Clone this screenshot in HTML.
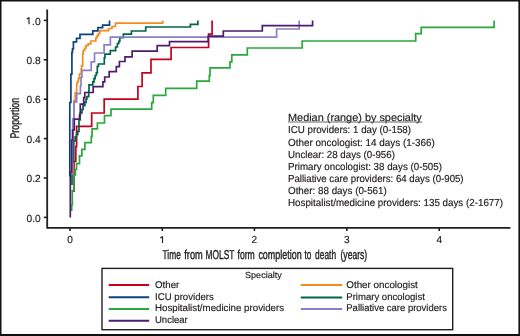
<!DOCTYPE html>
<html><head><meta charset="utf-8"><style>
html,body{margin:0;padding:0;background:#fff;}
body{width:520px;height:336px;overflow:hidden;}
svg{display:block;will-change:transform;}
text{font-family:"Liberation Sans",sans-serif;fill:#231f20;text-rendering:geometricPrecision;stroke:#231f20;stroke-width:0.18px;}
</style></head><body>
<svg width="520" height="336" viewBox="0 0 520 336">
<path d="M0,0 H520 V336 H0 Z M1.5,1.6 V334 H518.4 V1.6 Z" fill="#111" fill-rule="evenodd"/>
<line x1="43.8" y1="20.4" x2="47" y2="20.4" stroke="#231f20" stroke-width="1.6"/>
<text x="40.7" y="24.5" font-size="10.3" text-anchor="end">.0</text>
<path d="M 29,17.3 V 24.2 M 26.9,19.0 L 29.3,17.4" fill="none" stroke="#231f20" stroke-width="1.15"/>
<line x1="43.8" y1="59.8" x2="47" y2="59.8" stroke="#231f20" stroke-width="1.6"/>
<text x="40.7" y="63.9" font-size="10.3" text-anchor="end" textLength="14.2" lengthAdjust="spacingAndGlyphs">0.8</text>
<line x1="43.8" y1="99.2" x2="47" y2="99.2" stroke="#231f20" stroke-width="1.6"/>
<text x="40.7" y="103.3" font-size="10.3" text-anchor="end" textLength="14.2" lengthAdjust="spacingAndGlyphs">0.6</text>
<line x1="43.8" y1="138.6" x2="47" y2="138.6" stroke="#231f20" stroke-width="1.6"/>
<text x="40.7" y="142.7" font-size="10.3" text-anchor="end" textLength="14.2" lengthAdjust="spacingAndGlyphs">0.4</text>
<line x1="43.8" y1="178.0" x2="47" y2="178.0" stroke="#231f20" stroke-width="1.6"/>
<text x="40.7" y="182.1" font-size="10.3" text-anchor="end" textLength="14.2" lengthAdjust="spacingAndGlyphs">0.2</text>
<line x1="43.8" y1="217.4" x2="47" y2="217.4" stroke="#231f20" stroke-width="1.6"/>
<text x="40.7" y="221.5" font-size="10.3" text-anchor="end" textLength="14.2" lengthAdjust="spacingAndGlyphs">0.0</text>
<line x1="70" y1="227" x2="70" y2="231" stroke="#231f20" stroke-width="1.6"/>
<text x="70" y="243" font-size="10.1" text-anchor="middle">0</text>
<line x1="162.3" y1="227" x2="162.3" y2="231" stroke="#231f20" stroke-width="1.6"/>
<path d="M 162.5,236.3 V 243 M 160.3,238.0 L 162.7,236.4" fill="none" stroke="#231f20" stroke-width="1.15"/>
<line x1="254.4" y1="227" x2="254.4" y2="231" stroke="#231f20" stroke-width="1.6"/>
<text x="254.4" y="243" font-size="10.1" text-anchor="middle">2</text>
<line x1="346.8" y1="227" x2="346.8" y2="231" stroke="#231f20" stroke-width="1.6"/>
<text x="346.8" y="243" font-size="10.1" text-anchor="middle">3</text>
<line x1="439.2" y1="227" x2="439.2" y2="231" stroke="#231f20" stroke-width="1.6"/>
<text x="439.2" y="243" font-size="10.1" text-anchor="middle">4</text>
<path d="M 47.2,9.5 V 227.8 H 510.4" fill="none" stroke="#231f20" stroke-width="1.8"/>
<text x="162.6" y="258.5" font-size="12.9" text-anchor="start" textLength="18.2" lengthAdjust="spacingAndGlyphs" style="stroke-width:0.42px">Time</text>
<text x="184.3" y="258.5" font-size="12.9" text-anchor="start" textLength="18.5" lengthAdjust="spacingAndGlyphs" style="stroke-width:0.42px">from</text>
<text x="205.6" y="258.5" font-size="12.9" text-anchor="start" textLength="28.7" lengthAdjust="spacingAndGlyphs" style="stroke-width:0.42px">MOLST</text>
<text x="237.5" y="258.5" font-size="12.9" text-anchor="start" textLength="17.3" lengthAdjust="spacingAndGlyphs" style="stroke-width:0.42px">form</text>
<text x="258.4" y="258.5" font-size="12.9" text-anchor="start" textLength="43.3" lengthAdjust="spacingAndGlyphs" style="stroke-width:0.42px">completion</text>
<text x="304.4" y="258.5" font-size="12.9" text-anchor="start" textLength="6.9" lengthAdjust="spacingAndGlyphs" style="stroke-width:0.42px">to</text>
<text x="315.1" y="258.5" font-size="12.9" text-anchor="start" textLength="21.0" lengthAdjust="spacingAndGlyphs" style="stroke-width:0.42px">death</text>
<text x="340.5" y="258.5" font-size="12.9" text-anchor="start" textLength="26.7" lengthAdjust="spacingAndGlyphs" style="stroke-width:0.42px">(years)</text>
<text transform="translate(19.2,138.6) rotate(-90)" font-size="12.6" textLength="40.8" lengthAdjust="spacingAndGlyphs" style="stroke-width:0.42px">Proportion</text>
<path d="M 74,192 V 161.5 H 75.8 V 146.7 H 76.6 V 126.3 H 91.7 V 113.0 H 104.2 V 99.1 H 137.9 V 86.5 H 142.1 V 72.9 H 151 V 59.3 H 171.1 V 47.5 H 208.6 V 34.1 H 212.1 V 20.5" fill="none" stroke="#c6001f" stroke-width="1.7" stroke-linejoin="miter" stroke-linecap="butt"/>
<path d="M 71.7,211 V 205 H 72.3 V 190.5 H 73.8 V 175 H 75.4 V 169.5 H 76.5 V 163.6 H 79.5 V 155.8 H 81.9 V 149.3 H 84.9 V 142.7 H 91.3 V 136.4 H 92.1 V 128.9 H 97.4 V 123.0 H 104.5 V 115.7 H 111 V 109.2 H 151.7 V 102.6 H 153.3 V 95.3 H 165.7 V 88.4 H 196.7 V 81.2 H 209.3 V 75.7 H 210 V 67.8 H 230 V 61.8 H 231.8 V 54.9 H 247.3 V 48.0 H 302.2 V 41.0 H 415.7 V 33.6 H 421.2 V 27.4 H 494.1 V 20.5" fill="none" stroke="#2aa83e" stroke-width="1.7" stroke-linejoin="miter" stroke-linecap="butt"/>
<path d="M 69.8,176.5 V 102.5 H 70.9 V 74.1 H 71.9 V 52.4 H 72.5 V 48.8 H 73.4 V 41.9 H 76.5 V 38.4 H 80 V 34.3 H 92.8 V 30.8 H 97.9 V 27.6 H 102.6 V 25.2 H 109.5 V 20.5" fill="none" stroke="#0c4280" stroke-width="1.7" stroke-linejoin="miter" stroke-linecap="butt"/>
<path d="M 72.8,174 V 119 H 74 V 100.3 H 75.2 V 92.6 H 76.7 V 84 H 77.4 V 81.6 H 78.4 V 78.4 H 79.4 V 74.1 H 81.2 V 68.8 H 81.6 V 65.9 H 82.6 V 63.8 H 82.75 V 53.7 H 83.2 V 50.6 H 84.5 V 48.4 H 85.9 V 45.7 H 88.1 V 43.9 H 90.8 V 41.0 H 95.8 V 38.0 H 97.1 V 35.7 H 98.5 V 33.5 H 99.8 V 30.7 H 108.7 V 28.5 H 112 V 26.5 H 115.5 V 23.1 H 162.7 V 20.5" fill="none" stroke="#f28c1e" stroke-width="1.7" stroke-linejoin="miter" stroke-linecap="butt"/>
<path d="M 72,185 V 162 H 73.8 V 141 H 75.2 V 136.8 H 76.5 V 134.5 H 77.8 V 131.4 H 79 V 120.0 H 80.2 V 112.8 H 82 V 109.3 H 83.1 V 105.7 H 84.9 V 102.3 H 86.1 V 99.1 H 86.9 V 96.7 H 88.7 V 91.3 H 89 V 84.9 H 92.8 V 81.8 H 94 V 78.6 H 95.1 V 75.5 H 96.3 V 72.9 H 97.3 V 66.3 H 98.4 V 64.0 H 104.3 V 57.8 H 104.9 V 54.2 H 110.3 V 50.6 H 115.6 V 47.0 H 117.4 V 43.5 H 118.8 V 41.3 H 119.8 V 37.7 H 123.4 V 34.1 H 131.4 V 31.0 H 145.7 V 27.0 H 190.4 V 24.3 H 197.9 V 20.5" fill="none" stroke="#00664a" stroke-width="1.7" stroke-linejoin="miter" stroke-linecap="butt"/>
<path d="M 72.3,175 V 130 H 72.8 V 119 H 74 V 101.8 H 76.7 V 93.6 H 80.4 V 86 H 81 V 77.4 H 81.9 V 70.3 H 91.2 V 61.9 H 94.5 V 53.0 H 104.1 V 44.9 H 110.4 V 37.1 H 276.6 V 29.0 H 299.2 V 20.5" fill="none" stroke="#8a7fcc" stroke-width="1.7" stroke-linejoin="miter" stroke-linecap="butt"/>
<path d="M 70.3,217.5 V 172 H 71.6 V 140 H 72.8 V 130 H 74.3 V 119.2 H 79.5 V 115.2 H 80.3 V 104.1 H 83.7 V 97.6 H 84.8 V 92.5 H 93.2 V 86.6 H 102.9 V 81.9 H 104.7 V 77 H 109.2 V 71.6 H 116.3 V 66.7 H 119.4 V 61.5 H 125 V 56.9 H 132.1 V 51.2 H 157.2 V 45.7 H 169.5 V 41.6 H 208.2 V 36.1 H 223.3 V 31.0 H 262.3 V 25.6 H 312.6 V 20.5" fill="none" stroke="#4e1c6e" stroke-width="1.7" stroke-linejoin="miter" stroke-linecap="butt"/>
<text x="288" y="120.5" font-size="10.5" text-anchor="start" textLength="133.8" lengthAdjust="spacingAndGlyphs">Median (range) by specialty</text>
<line x1="288" y1="122" x2="422.3" y2="122" stroke="#555" stroke-width="0.9"/>
<text x="288" y="133.4" font-size="10.1" text-anchor="start" textLength="123" lengthAdjust="spacingAndGlyphs">ICU providers: 1 day (0-158)</text>
<text x="288" y="145.55" font-size="10.1" text-anchor="start" textLength="146.8" lengthAdjust="spacingAndGlyphs">Other oncologist: 14 days (1-366)</text>
<text x="288" y="157.7" font-size="10.1" text-anchor="start" textLength="106.9" lengthAdjust="spacingAndGlyphs">Unclear: 28 days (0-956)</text>
<text x="288" y="169.85" font-size="10.1" text-anchor="start" textLength="153.9" lengthAdjust="spacingAndGlyphs">Primary oncologist: 38 days (0-505)</text>
<text x="288" y="182.0" font-size="10.1" text-anchor="start" textLength="175.6" lengthAdjust="spacingAndGlyphs">Palliative care providers: 64 days (0-905)</text>
<text x="288" y="194.15" font-size="10.1" text-anchor="start" textLength="98.8" lengthAdjust="spacingAndGlyphs">Other: 88 days (0-561)</text>
<text x="288" y="206.3" font-size="10.1" text-anchor="start" textLength="215" lengthAdjust="spacingAndGlyphs">Hospitalist/medicine providers: 135 days (2-1677)</text>
<rect x="102" y="268.4" width="350.7" height="61.3" fill="none" stroke="#231f20" stroke-width="1.4"/>
<text x="245" y="278.2" font-size="8.9" text-anchor="start" textLength="36.8" lengthAdjust="spacingAndGlyphs">Specialty</text>
<line x1="108.7" y1="285.1" x2="149.2" y2="285.1" stroke="#c6001f" stroke-width="2"/>
<text x="155" y="287.6" font-size="9.8" text-anchor="start" textLength="24.3" lengthAdjust="spacingAndGlyphs">Other</text>
<line x1="108.7" y1="297.3" x2="149.2" y2="297.3" stroke="#0c4280" stroke-width="2"/>
<text x="155" y="299.6" font-size="9.8" text-anchor="start" textLength="58.9" lengthAdjust="spacingAndGlyphs">ICU providers</text>
<line x1="108.7" y1="308.9" x2="149.2" y2="308.9" stroke="#2aa83e" stroke-width="2"/>
<text x="155" y="311" font-size="9.8" text-anchor="start" textLength="129.1" lengthAdjust="spacingAndGlyphs">Hospitalist/medicine providers</text>
<line x1="108.7" y1="320.7" x2="149.2" y2="320.7" stroke="#4e1c6e" stroke-width="2"/>
<text x="155" y="322.5" font-size="9.8" text-anchor="start" textLength="32.8" lengthAdjust="spacingAndGlyphs">Unclear</text>
<line x1="300.8" y1="285.1" x2="342.2" y2="285.1" stroke="#f28c1e" stroke-width="2"/>
<text x="346.3" y="287.6" font-size="9.8" text-anchor="start" textLength="71.5" lengthAdjust="spacingAndGlyphs">Other oncologist</text>
<line x1="300.8" y1="297.4" x2="342.2" y2="297.4" stroke="#00664a" stroke-width="2"/>
<text x="346.3" y="299.6" font-size="9.8" text-anchor="start" textLength="78.6" lengthAdjust="spacingAndGlyphs">Primary oncologist</text>
<line x1="300.8" y1="309.1" x2="342.2" y2="309.1" stroke="#8a7fcc" stroke-width="2"/>
<text x="346.3" y="311" font-size="9.8" text-anchor="start" textLength="100.6" lengthAdjust="spacingAndGlyphs">Palliative care providers</text>
</svg>
</body></html>
